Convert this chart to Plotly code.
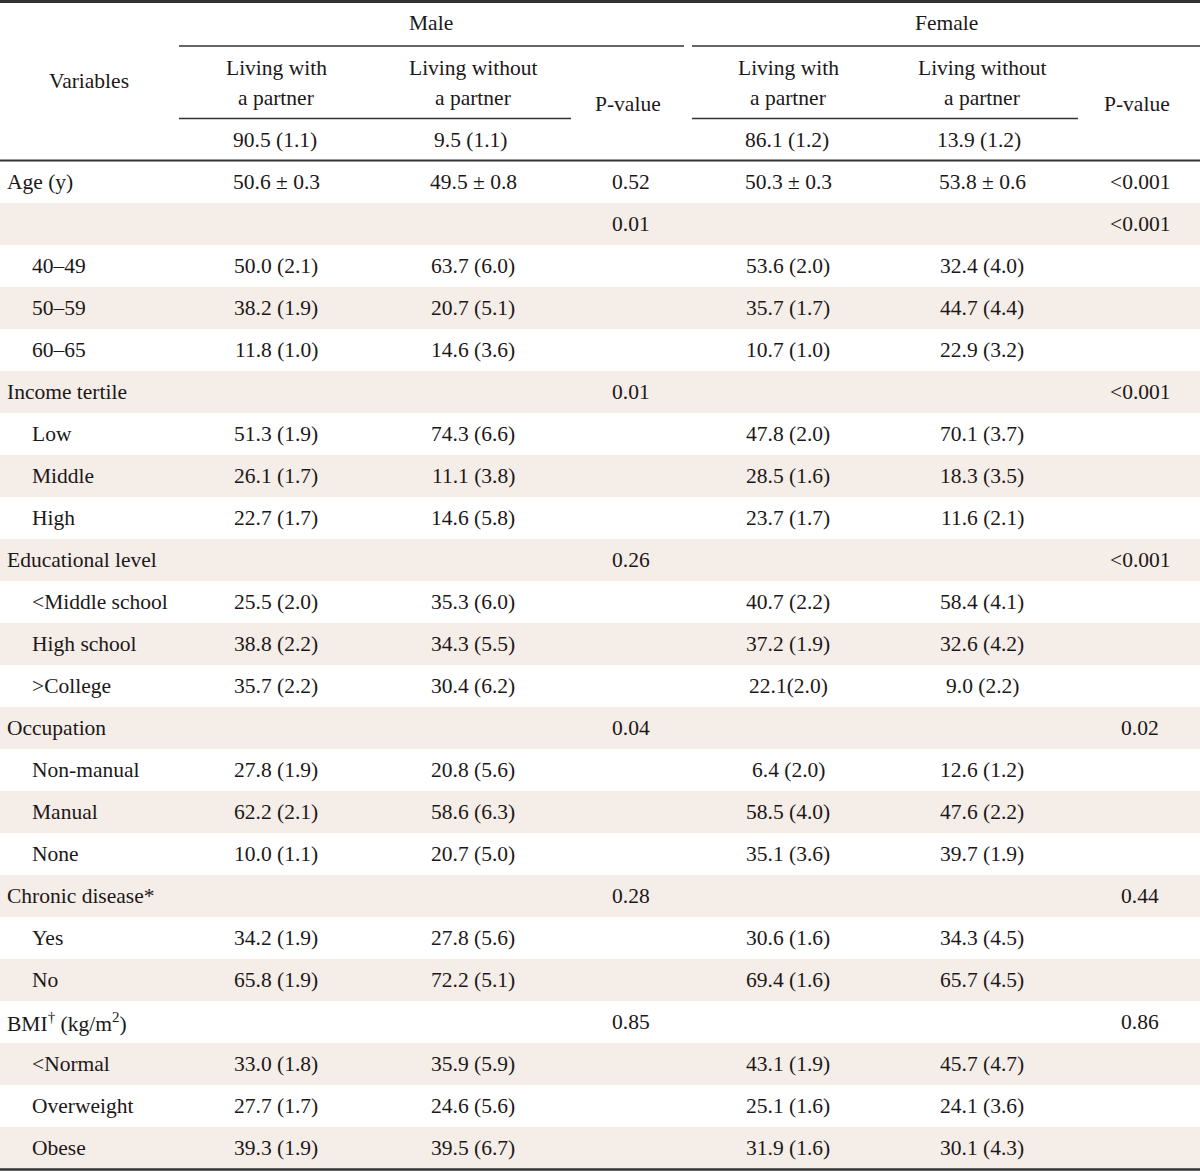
import plotly.graph_objects as go

# ---------------- data ----------------
row_labels = ["Age (y)", "", "40–49", "50–59", "60–65", "Income tertile", "Low", "Middle", "High",
              "Educational level", "<Middle school", "High school", ">College", "Occupation",
              "Non-manual", "Manual", "None", "Chronic disease*", "Yes", "No",
              "BMI<sup>†</sup> (kg/m<sup>2</sup>)", "<Normal", "Overweight", "Obese"]
row_indent = [0, 0, 1, 1, 1, 0, 1, 1, 1, 0, 1, 1, 1, 0, 1, 1, 1, 0, 1, 1, 0, 1, 1, 1]

male_with = ["50.6 ± 0.3", "", "50.0 (2.1)", "38.2 (1.9)", "11.8 (1.0)", "", "51.3 (1.9)", "26.1 (1.7)",
             "22.7 (1.7)", "", "25.5 (2.0)", "38.8 (2.2)", "35.7 (2.2)", "", "27.8 (1.9)", "62.2 (2.1)",
             "10.0 (1.1)", "", "34.2 (1.9)", "65.8 (1.9)", "", "33.0 (1.8)", "27.7 (1.7)", "39.3 (1.9)"]
male_without = ["49.5 ± 0.8", "", "63.7 (6.0)", "20.7 (5.1)", "14.6 (3.6)", "", "74.3 (6.6)", "11.1 (3.8)",
                "14.6 (5.8)", "", "35.3 (6.0)", "34.3 (5.5)", "30.4 (6.2)", "", "20.8 (5.6)", "58.6 (6.3)",
                "20.7 (5.0)", "", "27.8 (5.6)", "72.2 (5.1)", "", "35.9 (5.9)", "24.6 (5.6)", "39.5 (6.7)"]
male_p = ["0.52", "0.01", "", "", "", "0.01", "", "", "", "0.26", "", "", "", "0.04", "", "", "",
          "0.28", "", "", "0.85", "", "", ""]
female_with = ["50.3 ± 0.3", "", "53.6 (2.0)", "35.7 (1.7)", "10.7 (1.0)", "", "47.8 (2.0)", "28.5 (1.6)",
               "23.7 (1.7)", "", "40.7 (2.2)", "37.2 (1.9)", "22.1(2.0)", "", "6.4 (2.0)", "58.5 (4.0)",
               "35.1 (3.6)", "", "30.6 (1.6)", "69.4 (1.6)", "", "43.1 (1.9)", "25.1 (1.6)", "31.9 (1.6)"]
female_without = ["53.8 ± 0.6", "", "32.4 (4.0)", "44.7 (4.4)", "22.9 (3.2)", "", "70.1 (3.7)", "18.3 (3.5)",
                  "11.6 (2.1)", "", "58.4 (4.1)", "32.6 (4.2)", "9.0 (2.2)", "", "12.6 (1.2)", "47.6 (2.2)",
                  "39.7 (1.9)", "", "34.3 (4.5)", "65.7 (4.5)", "", "45.7 (4.7)", "24.1 (3.6)", "30.1 (4.3)"]
female_p = ["<0.001", "<0.001", "", "", "", "<0.001", "", "", "", "<0.001", "", "", "", "0.02", "", "", "",
            "0.44", "", "", "0.86", "", "", ""]

groups = ["Male", "Female"]
sub_header_l1 = ["Living with", "Living without"]
sub_header_l2 = ["a partner", "a partner"]
totals = [["90.5 (1.1)", "9.5 (1.1)"], ["86.1 (1.2)", "13.9 (1.2)"]]

# ---------------- layout geometry ----------------
W, H = 1200, 1172
FONT = "Liberation Serif"
FS = 21.5
TXT = "#1c1819"
LINE = "#333333"
SHADE = "#f5ede7"
row_top0 = 161
row_h = 42
col_x = [276, 473, 631, 788, 982, 1140]

fig = go.Figure()
shapes = []
annotations = []

def ann(x, y, text, anchor="center", size=FS):
    if text.startswith("<") and not text.startswith("<sup"):
        text = "&lt;" + text[1:]
    annotations.append(dict(x=x, y=y, xref="x", yref="y", text=text, showarrow=False,
                            xanchor=anchor, yanchor="middle",
                            font=dict(family=FONT, size=size, color=TXT)))

# shaded rows
for i in range(len(row_labels)):
    if i % 2 == 1:
        y0 = row_top0 + i * row_h
        shapes.append(dict(type="rect", xref="x", yref="y", x0=0, x1=W, y0=y0, y1=y0 + row_h,
                           fillcolor=SHADE, line=dict(width=0), layer="below"))

# lines
def hline(x0, x1, y, w):
    shapes.append(dict(type="line", xref="x", yref="y", x0=x0, x1=x1, y0=y, y1=y,
                       line=dict(color=LINE, width=w)))

hline(0, W, 1.5, 3)
hline(179, 684, 46, 1.5)
hline(692, W, 46, 1.5)
hline(179, 571, 118.5, 1.5)
hline(692, 1078, 118.5, 1.5)
hline(0, W, 160.5, 2)
hline(0, W, 1169.5, 2.5)

# header text
ann(89, 81, "Variables")
ann(431, 23, groups[0])
ann(946, 23, groups[1])
for g, base in enumerate([0, 3]):
    for k in range(2):
        ann(col_x[base + k], 68, sub_header_l1[k])
        ann(col_x[base + k], 98, sub_header_l2[k])
    ann(col_x[base] - 1, 140, totals[g][0])
    ann(col_x[base + 1] - 3, 140, totals[g][1])
    ann(col_x[base + 2] - 3, 104, "P-value")

# body
cols = [male_with, male_without, male_p, female_with, female_without, female_p]
for i, lab in enumerate(row_labels):
    yc = row_top0 + i * row_h + row_h / 2
    if lab:
        ann(5 + 25 * row_indent[i], yc, lab, anchor="left")
    for c, vals in enumerate(cols):
        if vals[i]:
            ann(col_x[c], yc, vals[i])

fig.update_layout(
    width=W, height=H,
    margin=dict(l=0, r=0, t=0, b=0),
    paper_bgcolor="white", plot_bgcolor="white",
    xaxis=dict(range=[0, W], visible=False, fixedrange=True),
    yaxis=dict(range=[H, 0], visible=False, fixedrange=True),
    shapes=shapes, annotations=annotations,
    showlegend=False,
)
fig.write_html("out.html", config={"displayModeBar": False},
               post_script="document.body.style.margin='0px';")
